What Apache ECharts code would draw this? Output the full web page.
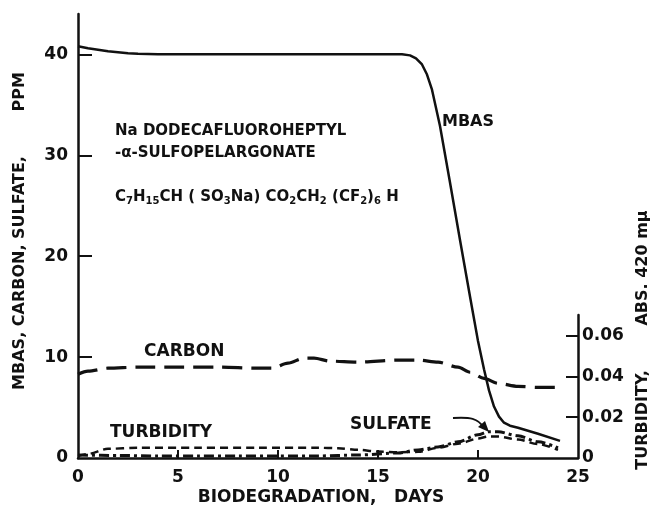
<!DOCTYPE html>
<html>
<head>
<meta charset="utf-8">
<script src="https://cdn.jsdelivr.net/npm/echarts@6/dist/echarts.min.js"></script>
<style>html,body{margin:0;padding:0;background:#fff;}#c{width:654px;height:512px;}</style>
</head>
<body>
<div id="c"></div>
<script>
// ---- data ----
const xTicks = [0, 5, 10, 15, 20, 25];
const leftTicks = [0, 10, 20, 30, 40];
const rightTicks = [0, 0.02, 0.04, 0.06];

const mbasDays   = [0, 0.5, 1, 1.5, 2, 2.5, 3, 4, 16.2, 16.6, 16.9, 17.2, 17.45, 17.7, 18.1, 18.6, 19.1, 19.6, 20.0, 20.3, 20.55, 20.8, 21.05, 21.3, 21.6, 22, 23, 24.1];
const mbasValues = [40.8, 40.6, 40.45, 40.3, 40.2, 40.1, 40.05, 40, 40, 39.9, 39.6, 39.0, 38.0, 36.5, 32.9, 27.3, 21.6, 16, 11.6, 8.8, 6.7, 5.1, 4.1, 3.5, 3.2, 3.0, 2.4, 1.7];

const carbonDays   = [0, 0.5, 1.5, 3, 5, 7, 9, 9.7, 10.5, 11.3, 11.8, 12.6, 14, 16, 17, 18, 19, 19.6, 20.3, 21, 22, 23, 24];
const carbonValues = [8.3, 8.6, 8.9, 9.0, 9.0, 9.0, 8.9, 8.9, 9.4, 9.9, 9.9, 9.6, 9.5, 9.7, 9.7, 9.5, 9.0, 8.5, 7.9, 7.4, 7.1, 7.0, 7.0];

const sulfateDays   = [0, 2, 4, 6, 8, 10, 12, 14, 16, 17, 18, 19, 20, 20.5, 21, 22, 23, 24];
const sulfateValues = [0.3, 0.25, 0.2, 0.2, 0.2, 0.2, 0.2, 0.3, 0.5, 0.8, 1.1, 1.6, 2.3, 2.6, 2.6, 2.2, 1.6, 1.0];

const turbDays   = [0, 0.5, 1.5, 3, 6, 9, 12, 13, 14, 15, 16, 17, 18, 19, 20, 20.5, 21, 22, 23, 24];
const turbValues = [0.001, 0.002, 0.0045, 0.005, 0.005, 0.005, 0.005, 0.0048, 0.004, 0.0032, 0.0028, 0.003, 0.005, 0.007, 0.0095, 0.0105, 0.0105, 0.009, 0.0068, 0.004];

const pairs = (xs, ys) => xs.map((x, i) => [x, ys[i]]);

const INK = '#111';
const FONT = 'DejaVu Sans';

const chart = echarts.init(document.getElementById('c'), null, {renderer: 'canvas'});

const txt = (x, y, text, opts = {}) => Object.assign({
  type: 'text', x, y, silent: true,
  style: Object.assign({text, fill: INK, font: `bold ${opts.size || 14}px "${FONT}"`, align: 'left', verticalAlign: 'middle'}, opts.style || {})
}, opts.extra || {});

chart.setOption({
  animation: false,
  backgroundColor: '#fff',
  grid: [
    {left: 78, top: 14, width: 500, height: 444},
    {left: 78, top: 315, width: 500, height: 143}
  ],
  xAxis: [
    {
      gridIndex: 0, type: 'value', min: 0, max: 25, interval: 5,
      axisLine: {onZero: false, lineStyle: {color: INK, width: 2.5}},
      axisTick: {inside: true, length: 8, lineStyle: {color: INK, width: 2}, customValues: xTicks.slice(1, -1)},
      axisLabel: {color: INK, fontFamily: FONT, fontWeight: 'bold', fontSize: 17, margin: 11, customValues: xTicks},
      splitLine: {show: false}
    },
    {
      gridIndex: 1, type: 'value', min: 0, max: 25, show: false
    }
  ],
  yAxis: [
    {
      gridIndex: 0, type: 'value', min: 0, max: 44, interval: 10,
      axisLine: {show: true, onZero: false, lineStyle: {color: INK, width: 2.5}},
      axisTick: {show: true, inside: true, length: 14, lineStyle: {color: INK, width: 2}, customValues: leftTicks.slice(1)},
      axisLabel: {color: INK, fontFamily: FONT, fontWeight: 'bold', fontSize: 17, margin: 10, customValues: leftTicks},
      splitLine: {show: false}
    },
    {
      gridIndex: 1, type: 'value', position: 'right', min: 0, max: 0.07, interval: 0.02,
      axisLine: {show: true, onZero: false, lineStyle: {color: INK, width: 2.5}},
      axisTick: {show: true, inside: true, length: 12, lineStyle: {color: INK, width: 2}, customValues: rightTicks.slice(1)},
      axisLabel: {color: INK, fontFamily: FONT, fontWeight: 'bold', fontSize: 17, margin: 4,
        customValues: rightTicks,
        formatter: v => v === 0 ? '0' : v.toFixed(2)},
      splitLine: {show: false}
    }
  ],
  series: [
    {
      name: 'MBAS', type: 'line', xAxisIndex: 0, yAxisIndex: 0,
      data: pairs(mbasDays, mbasValues), showSymbol: false, smooth: false,
      lineStyle: {color: INK, width: 2.5, join: 'round'}
    },
    {
      name: 'CARBON', type: 'line', xAxisIndex: 0, yAxisIndex: 0,
      data: pairs(carbonDays, carbonValues), showSymbol: false, smooth: 0.3, smoothMonotone: 'x',
      lineStyle: {color: INK, width: 3.2, type: [20, 9]}
    },
    {
      name: 'SULFATE', type: 'line', xAxisIndex: 0, yAxisIndex: 0,
      data: pairs(sulfateDays, sulfateValues), showSymbol: false, smooth: 0.3, smoothMonotone: 'x',
      lineStyle: {color: INK, width: 3, type: [10, 4, 3, 4]}
    },
    {
      name: 'TURBIDITY', type: 'line', xAxisIndex: 1, yAxisIndex: 1,
      data: pairs(turbDays, turbValues), showSymbol: false, smooth: 0.3, smoothMonotone: 'x',
      lineStyle: {color: INK, width: 2.5, type: [8, 5]}
    }
  ],
  graphic: [
    // axis titles
    txt(20, 231, 'MBAS, CARBON, SULFATE,        PPM', {size: 16, style: {align: 'center'}, extra: {rotation: Math.PI / 2}}),
    txt(643, 340, 'TURBIDITY,        ABS. 420 m\u03bc', {size: 16, style: {align: 'center'}, extra: {rotation: Math.PI / 2}}),
    txt(321, 498, 'BIODEGRADATION,   DAYS', {size: 17, style: {align: 'center'}}),
    // compound annotation
    txt(115, 131, 'Na DODECAFLUOROHEPTYL', {size: 15}),
    txt(115, 153, '-\u03b1-SULFOPELARGONATE', {size: 15}),
    {
      type: 'text', x: 115, y: 197, silent: true,
      style: {
        text: 'C{s|7}H{s|15}CH ( SO{s|3}Na) CO{s|2}CH{s|2} (CF{s|2}){s|6} H',
        fill: INK, font: `bold 15px "${FONT}"`, verticalAlign: 'middle',
        rich: {s: {fontSize: 10, fontWeight: 'bold', fontFamily: FONT, fill: INK, padding: [9, 0, 0, 0]}}
      }
    },
    // series labels
    txt(442, 122, 'MBAS', {size: 16}),
    txt(144, 352, 'CARBON', {size: 17}),
    txt(110, 433, 'TURBIDITY', {size: 17}),
    txt(350, 425, 'SULFATE', {size: 17}),
    // sulfate arrow
    {
      type: 'bezierCurve', silent: true,
      shape: {x1: 453, y1: 418, x2: 484, y2: 428, cpx1: 470, cpy1: 417, cpx2: 478, cpy2: 418},
      style: {stroke: INK, lineWidth: 2, fill: null}
    },
    {
      type: 'polygon', silent: true,
      shape: {points: [[489, 432], [478, 427], [485, 421]]},
      style: {fill: INK}
    }
  ]
});
</script>
</body>
</html>
